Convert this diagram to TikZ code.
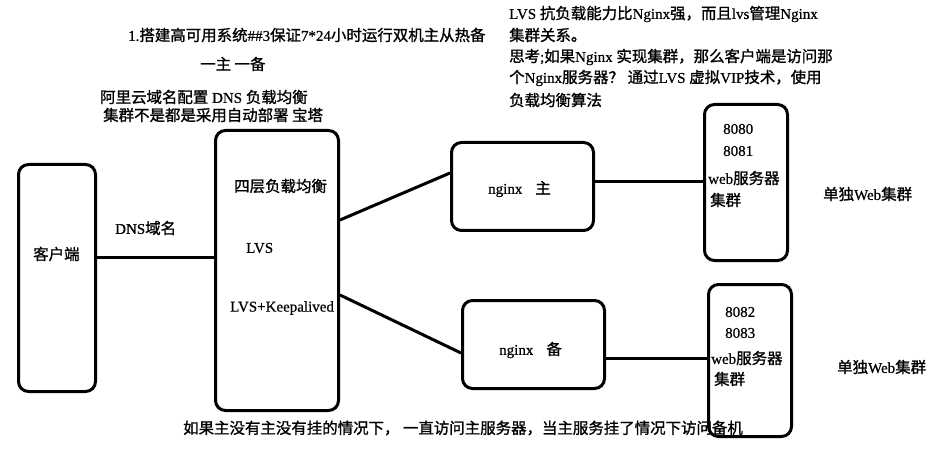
\documentclass[tikz,border=0pt]{standalone}
\usepackage{fontspec}
\setmainfont{Liberation Serif}[FakeBold=0.6]
\newfontfamily\zh{Noto Sans CJK SC}[Scale=1.03, FakeBold=1.2]
\usetikzlibrary{positioning}

\begin{document}
\begin{tikzpicture}[x=1pt, y=-1pt, font=\fontsize{15}{18}\selectfont, b/.style={draw, line width=3pt, rounded corners=10pt, inner sep=0pt}, t/.style={anchor=west, inner sep=0pt}, s/.style={line width=3pt}]
		\useasboundingbox (0,0) rectangle (936,462);

		\node[t] (title) at (128,35) {1.{\zh 搭建高可用系统}\#\#3{\zh 保证}7*24{\zh 小时运行双机主从热备}};
		\node[t] (onetwo) at (200,64) {\zh 一主 一备};
		\node[t] (dnsnote) at (100,97) {{\zh 阿里云域名配置} DNS {\zh 负载均衡}};
		\node[t] (deploy) at (103,115) {\zh 集群不是都是采用自动部署 宝塔};

		\node[t] (lvsa) at (509,14) {LVS {\zh 抗负载能力比}Nginx{\zh 强，而且}lvs{\zh 管理}Nginx};
		\node[t] (lvsb) at (509,35) {\zh 集群关系。};
		\node[t] (lvsc) at (509,57) {{\zh 思考};{\zh 如果}Nginx {\zh 实现集群，那么客户端是访问那}};
		\node[t] (lvsd) at (509,78) {{\zh 个}Nginx{\zh 服务器？} {\zh 通过}LVS {\zh 虚拟}VIP{\zh 技术，使用}};
		\node[t] (lvse) at (509,100) {\zh 负载均衡算法};

		\node[b, minimum width=77pt, minimum height=227pt] (client) at (57,278) {};
		\node[t] (client_label) at (33,254) {\zh 客户端};
		\node[b, minimum width=123pt, minimum height=280pt] (lvs) at (277,270.5) {};
		\node[t] (lvs_a) at (234,186) {\zh 四层负载均衡};
		\node[t] (lvs_b) at (246,248) {LVS};
		\node[t] (lvs_c) at (230,308) {LVS+Keepalived};
		\node[t] (dns) at (115,228) {DNS{\zh 域名}};

		\node[b, minimum width=142pt, minimum height=88pt] (ngmain) at (522.5,186.5) {};
		\node[t] (ngmain_label) at (488,189) {nginx\hspace{13pt}{\zh 主}};
		\node[b, minimum width=142pt, minimum height=88pt] (ngbak) at (533.5,344.5) {};
		\node[t] (ngbak_label) at (499,350) {nginx\hspace{13pt}{\zh 备}};

		\node[b, minimum width=83pt, minimum height=156pt] (webA) at (746,182.5) {};
		\node[t] (webA_a) at (723,129) {8080};
		\node[t] (webA_b) at (723,151) {8081};
		\node[t] (webA_c) at (708,178) {web{\zh 服务器}};
		\node[t] (webA_d) at (710,200) {\zh 集群};
		\node[t] (webA_label) at (823,194) {{\zh 单独}Web{\zh 集群}};

		\node[b, minimum width=83pt, minimum height=152pt] (webB) at (750,360.5) {};
		\node[t] (webB_a) at (725,312) {8082};
		\node[t] (webB_b) at (725,333) {8083};
		\node[t] (webB_c) at (711,358) {web{\zh 服务器}};
		\node[t] (webB_d) at (714,379) {\zh 集群};
		\node[t] (webB_label) at (837,367) {{\zh 单独}Web{\zh 集群}};

		\node[t] (failover) at (183,428) {\zh 如果主没有主没有挂的情况下， 一直访问主服务器，当主服务挂了情况下访问备机};

		\path[s] ([yshift=21pt]client.east) edge ([yshift=13.5pt]lvs.west);
		\path[s] ([yshift=50.5pt]lvs.east) edge ([yshift=13.5pt]ngmain.west);
		\path[s] ([yshift=-24.5pt]lvs.east) edge ([yshift=-8.5pt]ngbak.west);
		\path[s] ([yshift=4.5pt]ngmain.east) edge ([yshift=0.5pt]webA.west);
		\path[s] ([yshift=-13.5pt]ngbak.east) edge ([yshift=2.5pt]webB.west);
	\end{tikzpicture}
\end{document}
